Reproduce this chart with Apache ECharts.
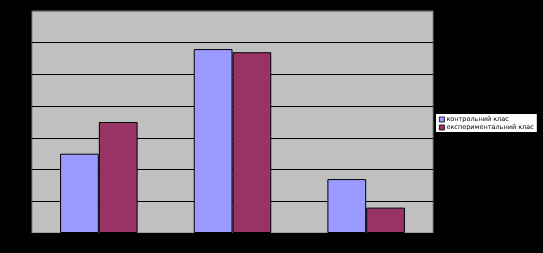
<!DOCTYPE html>
<html><head><meta charset="utf-8">
<script src="https://cdn.jsdelivr.net/npm/echarts@6/dist/echarts.min.js"></script>
<style>html,body{margin:0;padding:0;background:#000;}#c{width:543px;height:253px;}</style>
</head><body><div id="c"></div>
<script>
const categories = ['1', '2', '3'];
const seriesNames = ['контрольний клас', 'експериментальний клас'];
const controlValues = [25, 58, 17];
const experimentalValues = [35, 57, 8];
const yTicks = [0, 10, 20, 30, 40, 50, 60, 70];

const chart = echarts.init(document.getElementById('c'));
chart.setOption({
  backgroundColor: '#000',
  animation: false,
  grid: { left: 32, top: 11, right: 110, bottom: 20, show: true, backgroundColor: '#c0c0c0', borderColor: '#808080', borderWidth: 1 },
  legend: {
    orient: 'vertical', left: 436, top: 114,
    backgroundColor: '#fff', padding: [2, 3, 1, 3],
    itemWidth: 5, itemHeight: 5, itemGap: 1,
    icon: 'rect',
    itemStyle: { borderColor: '#000', borderWidth: 0.8 },
    textStyle: { fontSize: 6.5, lineHeight: 6, color: '#000', fontFamily: 'DejaVu Sans', padding: [0, 0, 0, -3] },
    data: seriesNames
  },
  xAxis: {
    type: 'category', data: categories,
    axisLine: { show: false }, axisTick: { show: false }, axisLabel: { show: false }
  },
  yAxis: {
    type: 'value', min: yTicks[0], max: yTicks[yTicks.length - 1], interval: 10,
    axisLine: { show: false }, axisTick: { show: false }, axisLabel: { show: false },
    splitLine: { lineStyle: { color: ['#000', '#000', '#000', '#000', '#000', '#000', '#000', '#808080'], width: 1 } }
  },
  series: [
    { name: seriesNames[0], type: 'bar', data: controlValues, barGap: '0%', barCategoryGap: '42%',
      itemStyle: { color: '#9999ff', borderColor: '#000', borderWidth: 1 } },
    { name: seriesNames[1], type: 'bar', data: experimentalValues,
      itemStyle: { color: '#993366', borderColor: '#000', borderWidth: 1 } }
  ]
});
</script></body></html>
